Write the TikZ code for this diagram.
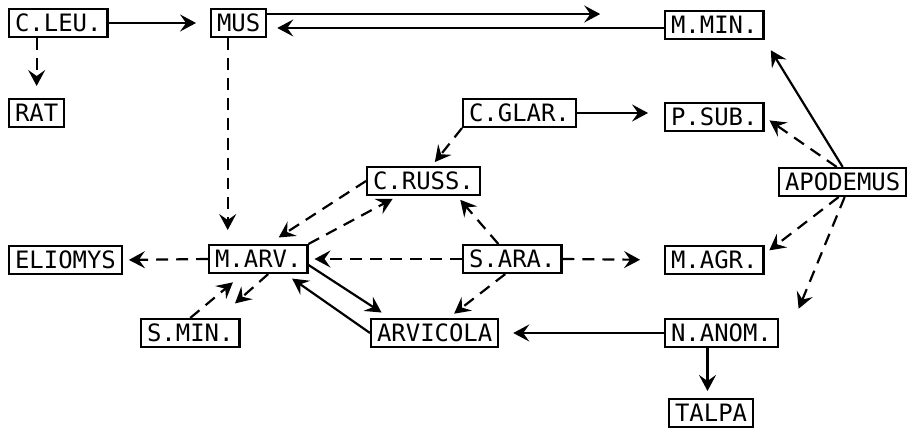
\documentclass[tikz,border=0pt]{standalone}
\usepackage{fontspec}
\setmonofont{DejaVu Sans Mono}
\usetikzlibrary{arrows.meta}

\begin{document}
\begin{tikzpicture}[
      x=0.5bp, y=-0.5bp,
      species/.style={draw, line width=1.1pt, anchor=west, inner xsep=3pt, inner ysep=0pt,
        minimum height=14pt, font=\ttfamily\fontsize{12}{12}\selectfont},
      arr/.style={line width=1.1pt, -{Stealth[length=8pt, width=8.5pt, inset=3pt]}},
      darr/.style={arr, dash pattern=on 6pt off 4pt}
    ]
    \useasboundingbox (0,0) rectangle (915,430);

    \node[species] (cleu) at (8,23) {C.LEU.};
    \node[species] (mus) at (210,23) {MUS};
    \node[species] (mmin) at (664,25) {M.MIN.};
    \node[species] (rat) at (8,113) {RAT};
    \node[species] (cglar) at (462,113) {C.GLAR.};
    \node[species] (psub) at (664,117) {P.SUB.};
    \node[species] (cruss) at (366,181) {C.RUSS.};
    \node[species] (apod) at (778,182) {APODEMUS};
    \node[species] (eliom) at (8,260) {ELIOMYS};
    \node[species] (marv) at (208,259) {M.ARV.};
    \node[species] (sara) at (462,259) {S.ARA.};
    \node[species] (magr) at (664,260) {M.AGR.};
    \node[species] (smin) at (140,333) {S.MIN.};
    \node[species] (arvic) at (370,333) {ARVICOLA};
    \node[species] (nanom) at (664,333) {N.ANOM.};
    \node[species] (talpa) at (668,413) {TALPA};

    % top row
    \draw[arr, shorten >=7pt] (cleu.east) -- (mus.west);
    \draw[arr, shorten >=32pt] ([yshift=4.5pt]mus.east) -- ([yshift=4.5pt]mus.east -| mmin.west);
    \draw[arr, shorten >=5pt] ([yshift=-1.5pt]mmin.west) -- ([yshift=-1.5pt]mmin.west -| mus.east);
    \draw[darr, shorten >=6pt] (rat.north |- cleu.south) -- (rat.north);
    \draw[darr, shorten >=7pt] ([xshift=-5.5pt]mus.south) -- ([xshift=-5.5pt]mus.south |- marv.north);

    % middle
    \draw[arr, shorten >=8pt] (cglar.east) -- (cglar.east -| psub.west);
    \draw[darr, shorten >=2.5pt] (cglar.south west) -- ([xshift=33pt]cruss.north west);
    \draw[darr, shorten >=6pt] (cruss.west) -- ([xshift=-20pt]marv.north east);
    \draw[darr, shorten >=3pt] (marv.north east) -- ([xshift=16pt]cruss.south west);
    \draw[darr, shorten >=2.5pt] ([xshift=-7pt]sara.north) -- ([xshift=-12pt]cruss.south east);
    \draw[darr, shorten >=3pt] (sara.west) -- (marv.east);
    \draw[darr, shorten >=12pt] (sara.east) -- (magr.west);
    \draw[darr, shorten >=3pt] (marv.west) -- (eliom.east);
    \draw[darr, shorten >=3.5pt] ([xshift=-3.5pt]sara.south) -- ([xshift=7pt]arvic.north);

    % apodemus
    \draw[arr, shorten >=6pt] (apod.north) -- (mmin.south east);
    \draw[darr, shorten >=3pt] ([xshift=-3pt]apod.north) -- (psub.east);
    \draw[darr, shorten >=3pt] ([xshift=-2pt]apod.south) -- ([yshift=3pt]magr.east);
    \draw[darr, shorten >=5pt] ([xshift=1pt]apod.south) -- ([xshift=8pt]nanom.north east);

    % lower left
    \draw[darr, shorten >=6.5pt] (smin.north) -- ([xshift=17.5pt]marv.south west);
    \draw[darr, shorten >=11pt] ([xshift=5pt]marv.south) -- ([xshift=-11pt]smin.north east);
    \draw[arr, shorten >=5pt] ([yshift=-3pt]marv.east) -- ([xshift=10pt]arvic.north west);
    \draw[arr, shorten >=4pt] (arvic.west) -- ([xshift=-11.5pt]marv.south east);

    % bottom
    \draw[arr, shorten >=7pt] (nanom.west) -- (arvic.east);
    \draw[arr, shorten >=3.5pt] ([xshift=-7pt]nanom.south) -- ([xshift=-7pt]nanom.south |- talpa.north);
  \end{tikzpicture}
\end{document}
